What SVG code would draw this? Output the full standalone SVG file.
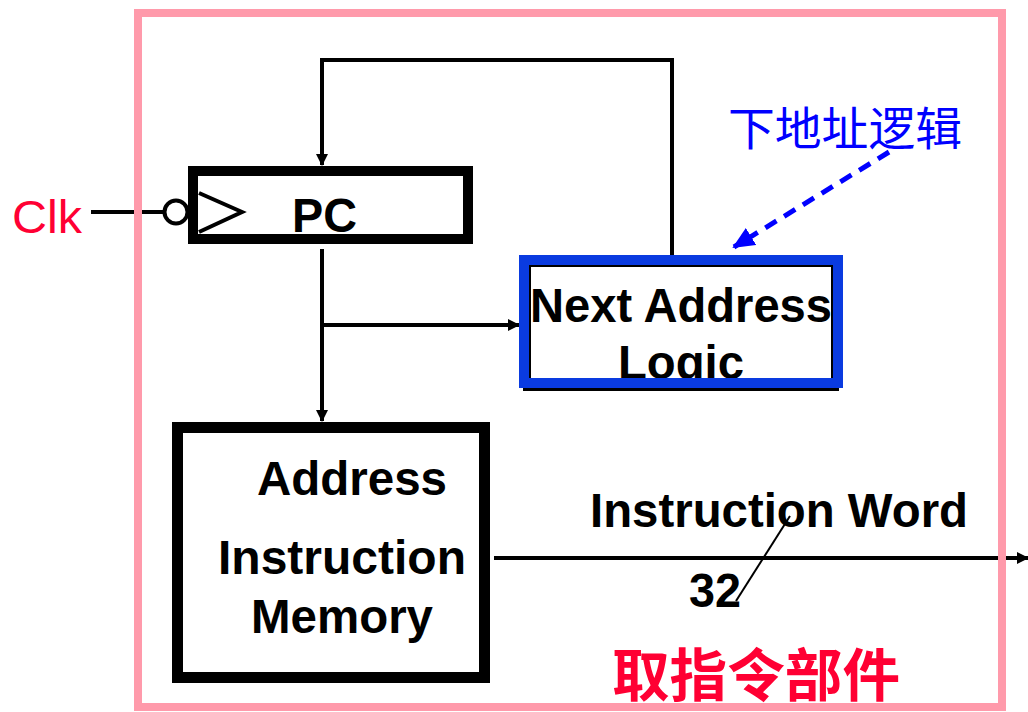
<svg xmlns="http://www.w3.org/2000/svg" width="1028" height="712" viewBox="0 0 1028 712">
<style>
.blk{font-family:"Liberation Sans",Arial,sans-serif;font-weight:bold;font-size:47.5px;fill:#000}
.wire{stroke:#000;stroke-width:4;fill:none}
.box{fill:#fff;stroke:#000}
</style>
<defs>
<marker id="ah" markerWidth="12" markerHeight="12" refX="11" refY="6" orient="auto" markerUnits="userSpaceOnUse" viewBox="0 0 12 12">
<path d="M0,0 L12,6 L0,12 Z" fill="#000"/>
</marker>
<marker id="bh" markerWidth="22" markerHeight="20" refX="20" refY="10" orient="auto" markerUnits="userSpaceOnUse" viewBox="0 0 22 20">
<path d="M0,0 L22,10 L0,20 Z" fill="#0000ff"/>
</marker>
</defs>
<rect width="1028" height="712" fill="#fff"/>
<g id="connectors">
<line class="wire" x1="91" y1="212" x2="163" y2="212"/>
<polyline class="wire" points="672,256 672,60 322,60 322,165" marker-end="url(#ah)"/>
<line class="wire" x1="322" y1="249" x2="322" y2="421" marker-end="url(#ah)"/>
<line class="wire" x1="322" y1="325" x2="519" y2="325" marker-end="url(#ah)"/>
<line class="wire" x1="494" y1="558" x2="1028" y2="558" marker-end="url(#ah)"/>
<line stroke="#000" stroke-width="2" x1="790" y1="516" x2="736" y2="601"/>
<line stroke="#0000ff" stroke-width="5" stroke-dasharray="13,9" x1="889" y1="152" x2="734" y2="247" marker-end="url(#bh)"/>
</g>
<rect id="frame" x="138" y="13" width="864" height="694" fill="none" stroke="#ff9aab" stroke-width="8"/>
<g id="clk">
<text x="12" y="233" font-family="Liberation Sans,Arial,sans-serif" font-size="46" fill="#ff0033" textLength="70" lengthAdjust="spacingAndGlyphs">Clk</text>
</g>
<g id="pc">
<rect class="box" x="193" y="171" width="275" height="68" stroke-width="10"/>
<circle cx="176" cy="212" r="11.5" fill="#fff" stroke="#000" stroke-width="4"/>
<polyline points="199,193 242,212 199,232" fill="none" stroke="#000" stroke-width="4"/>
<text class="blk" x="292" y="232" textLength="65" lengthAdjust="spacingAndGlyphs">PC</text>
</g>
<g id="nal">
<rect class="box" x="527" y="263" width="308" height="124" stroke-width="8"/>
<text class="blk" x="530" y="322" textLength="302" lengthAdjust="spacingAndGlyphs">Next Address</text>
<text class="blk" x="618" y="379" textLength="126" lengthAdjust="spacingAndGlyphs">Logic</text>
<rect x="524" y="260" width="314" height="123" fill="none" stroke="#0a3be0" stroke-width="10"/>
</g>
<g id="label-nal">
<text x="728" y="145" font-family="Noto Sans CJK SC,sans-serif" font-size="46" fill="#0000ff" textLength="234" lengthAdjust="spacingAndGlyphs">下地址逻辑</text>
</g>
<g id="imem">
<rect class="box" x="177.5" y="427.5" width="307" height="250" stroke-width="11"/>
<text class="blk" x="257" y="495" textLength="190" lengthAdjust="spacingAndGlyphs">Address</text>
<text class="blk" x="218" y="574" textLength="248" lengthAdjust="spacingAndGlyphs">Instruction</text>
<text class="blk" x="251" y="633" textLength="182" lengthAdjust="spacingAndGlyphs">Memory</text>
</g>
<g id="iw">
<text class="blk" x="590" y="527" textLength="378" lengthAdjust="spacingAndGlyphs">Instruction Word</text>
<text class="blk" x="689" y="607" textLength="52" lengthAdjust="spacingAndGlyphs">32</text>
</g>
<g id="title">
<text x="612" y="696" font-family="Noto Sans CJK SC,sans-serif" font-weight="bold" font-size="57" fill="#ff0033" textLength="288" lengthAdjust="spacingAndGlyphs">取指令部件</text>
</g>
</svg>
